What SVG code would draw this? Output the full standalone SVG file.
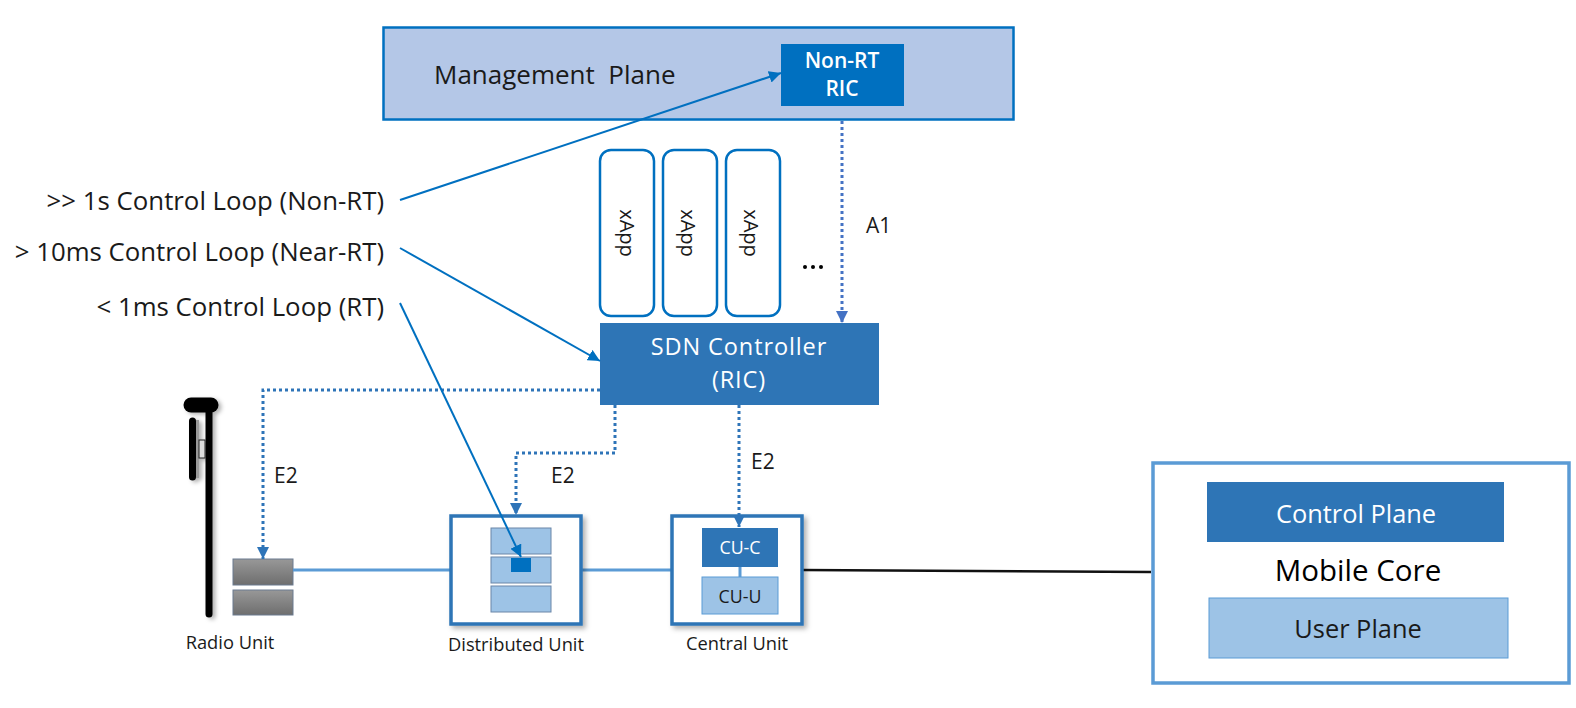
<svg xmlns="http://www.w3.org/2000/svg" width="1576" height="708" viewBox="0 0 1576 708">
<style>
text{font-family:"Open Sans","Noto Sans","Liberation Sans",sans-serif;fill:#1a1a1a}
.m{text-anchor:middle}
.e{text-anchor:end}
.dot{fill:none;stroke:#2e74b8;stroke-width:3;stroke-dasharray:3 3}
.sol{fill:none;stroke:#0070c0;stroke-width:2}
.lnk{fill:none;stroke:#5b9bd5;stroke-width:3}
.unit{fill:#fff;stroke:#2e75b6;stroke-width:3.5;filter:url(#sh)}
.lite{fill:#9dc3e6;stroke:#6b86a8;stroke-width:1}
.gr{fill:url(#g);stroke:#6b7b90;stroke-width:1}
.xapp{fill:#fff;stroke:#0070c0;stroke-width:2.5}
.lab{font-size:18.300px}
.loop{font-size:25.800px}
.big{font-size:25.400px}
.if{font-size:21px}
.xa{font-size:20px}
</style>
<defs>
<linearGradient id="g" x1="0" y1="0" x2="0" y2="1"><stop offset="0" stop-color="#989898"/><stop offset="1" stop-color="#6e6e6e"/></linearGradient>
<filter id="sh" x="-10%" y="-10%" width="125%" height="125%"><feDropShadow dx="3" dy="3" stdDeviation="2.500" flood-color="#000" flood-opacity=".3"/></filter>
<filter id="ts" filterUnits="userSpaceOnUse" x="170" y="380" width="70" height="250"><feDropShadow dx="3" dy="2" stdDeviation="2" flood-color="#000" flood-opacity=".3"/></filter>
<marker id="ad" markerUnits="userSpaceOnUse" markerWidth="13" markerHeight="12" refX="12" refY="6" orient="auto"><path d="M0 0L12 6L0 12z" fill="#2e74b8"/></marker>
<marker id="ab" markerUnits="userSpaceOnUse" markerWidth="13" markerHeight="12" refX="12" refY="6" orient="auto"><path d="M0 0L12 6L0 12z" fill="#4472c4"/></marker>
<marker id="as" markerUnits="userSpaceOnUse" markerWidth="13" markerHeight="12" refX="12" refY="6" orient="auto"><path d="M0 0L12 6L0 12z" fill="#0070c0"/></marker>
</defs>

<g id="management-plane">
<rect x="383.500" y="27.500" width="630" height="92" fill="#b4c7e7" stroke="#0070c0" stroke-width="2.500"/>
<text x="434" y="84" font-size="26" xml:space="preserve">Management  Plane</text>
</g>
<g id="non-rt-ric">
<rect x="781" y="44" width="123" height="62" fill="#0070c0"/>
<text class="m" font-size="21" font-weight="600" style="fill:#fff"><tspan x="842" y="68">Non-RT</tspan><tspan x="842" y="96">RIC</tspan></text>
</g>
<g id="xapp-1"><rect class="xapp" x="600" y="150" width="54" height="166" rx="11"/><text class="m xa" transform="translate(620 233) rotate(90)">xApp</text></g>
<g id="xapp-2"><rect class="xapp" x="663" y="150" width="54" height="166" rx="11"/><text class="m xa" transform="translate(681 233) rotate(90)">xApp</text></g>
<g id="xapp-3"><rect class="xapp" x="726" y="150" width="54" height="166" rx="11"/><text class="m xa" transform="translate(744 233) rotate(90)">xApp</text></g>
<g id="ellipsis"><circle cx="805" cy="267" r="2"/><circle cx="813" cy="267" r="2"/><circle cx="821" cy="267" r="2"/></g>
<g id="sdn-controller">
<rect x="600" y="323" width="279" height="82" fill="#2e75b6"/>
<text class="m" font-size="23.500" letter-spacing=".9" x="739" y="355" style="fill:#fff">SDN Controller</text>
<text class="m" font-size="23.500" letter-spacing=".9" x="739" y="388" style="fill:#fff">(RIC)</text>
</g>
<g id="loop-labels">
<text class="e loop" x="384" y="210">&gt;&gt; 1s Control Loop (Non-RT)</text>
<text class="e loop" x="384" y="261">&gt; 10ms Control Loop (Near-RT)</text>
<text class="e loop" x="384" y="316">&lt; 1ms Control Loop (RT)</text>
</g>
<g id="tower" filter="url(#ts)">
<path d="M209 408V614" fill="none" stroke="#000" stroke-width="7" stroke-linecap="round"/>
<path d="M191 405H211" fill="none" stroke="#000" stroke-width="15" stroke-linecap="round"/>
<rect x="196" y="420" width="3" height="58" fill="#999"/>
<rect x="199" y="440" width="6" height="18" fill="#ddd" stroke="#222"/>
<path d="M192.500 421V477" fill="none" stroke="#000" stroke-width="7" stroke-linecap="round"/>
</g>
<g id="radio-unit">
<rect class="gr" x="233" y="559" width="60" height="26"/>
<rect class="gr" x="233" y="590" width="60" height="25"/>
<text class="m lab" x="230" y="649">Radio Unit</text>
</g>
<g id="links">
<path class="lnk" d="M293 570H451M581 570H672"/>
<path d="M802 570L1151 572" fill="none" stroke="#111" stroke-width="2.500"/>
</g>
<g id="distributed-unit">
<rect class="unit" x="451" y="516" width="130" height="108"/>
<rect class="lite" x="491" y="528" width="60" height="26"/>
<rect class="lite" x="491" y="557" width="60" height="26"/>
<rect class="lite" x="491" y="586" width="60" height="26"/>
<rect x="511" y="558" width="20" height="14" fill="#0070c0"/>
<text class="m lab" x="516" y="651">Distributed Unit</text>
</g>
<g id="central-unit">
<rect class="unit" x="672" y="516" width="130" height="108"/>
<path class="lnk" d="M740 567V577"/>
<rect x="702" y="528" width="76" height="39" fill="#2e75b6"/>
<rect x="702" y="577" width="76" height="37" fill="#9dc3e6" stroke="#5b9bd5"/>
<text class="m" x="740" y="554" font-size="17.800" style="fill:#fff">CU-C</text>
<text class="m" x="740" y="603" font-size="17.800">CU-U</text>
<text class="m lab" x="737" y="650">Central Unit</text>
</g>
<g id="mobile-core">
<rect x="1153" y="463" width="416" height="220" fill="#fff" stroke="#5b9bd5" stroke-width="3.500"/>
<rect x="1207" y="482" width="297" height="60" fill="#2e75b6"/>
<text class="m big" x="1356" y="523" style="fill:#fff">Control Plane</text>
<text class="m" x="1358" y="581" font-size="29.500" style="fill:#000">Mobile Core</text>
<rect x="1209" y="598" width="299" height="60" fill="#9dc3e6" stroke="#5b9bd5"/>
<text class="m big" x="1358" y="638">User Plane</text>
</g>
<g id="connectors">
<path class="dot" style="stroke:#4472c4" d="M842 121V323" marker-end="url(#ab)"/>
<path class="dot" d="M600 390H263V559" marker-end="url(#ad)"/>
<path class="dot" d="M615 405V453H516V515" marker-end="url(#ad)"/>
<path class="dot" d="M739 405V527" marker-end="url(#ad)"/>
<path class="sol" d="M400 200L781 73" marker-end="url(#as)"/>
<path class="sol" d="M400 248L600 361" marker-end="url(#as)"/>
<path class="sol" d="M400 303L521 557" marker-end="url(#as)"/>
</g>
<g id="interface-labels">
<text class="if" x="274" y="483">E2</text>
<text class="if" x="551" y="483">E2</text>
<text class="if" x="751" y="469">E2</text>
<text class="if" x="866" y="233">A1</text>
</g>
</svg>
